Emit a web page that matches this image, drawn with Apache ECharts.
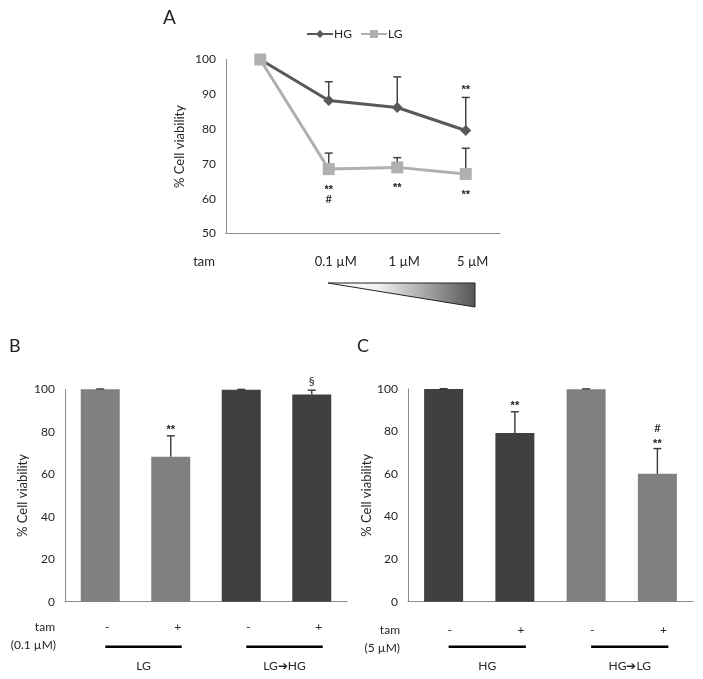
<!DOCTYPE html>
<html><head><meta charset="utf-8">
<script src="https://cdn.jsdelivr.net/npm/echarts@6/dist/echarts.min.js"></script>
<style>html,body{margin:0;padding:0;background:#fff}#c{width:703px;height:679px}</style>
</head><body><div id="c"></div>
<script>
// Panel A
const catsA = ['', '0.1 µM', '1 µM', '5 µM'];
const hgA = [100, 88.2, 86.2, 79.6];
const hgErrA = [0, 5.4, 8.8, 9.5];
const lgA = [100, 68.5, 69.0, 67.1];
const lgErrA = [0, 4.6, 2.8, 7.4];
const annA = [[1, 63.1, '**'], [1, 59.9, '#'], [2, 63.7, '**'], [3, 61.9, '**'], [3, 92.1, '**']];
// Panel B
const catsB = ['-', '+', '-', '+'];
const valsB = [100, 68.3, 99.8, 97.6];
const errB = [0.15, 9.8, 0.15, 2.0];
const groupsB = [[0, 1, 'LG'], [2, 3, 'LG➔HG']];
const annB = [[1, 82.2, '**'], [3, 103.9, '§']];
// Panel C
const catsC = ['-', '+', '-', '+'];
const valsC = [100, 79.3, 99.9, 60.1];
const errC = [0.15, 10.0, 0.15, 11.9];
const groupsC = [[0, 1, 'HG'], [2, 3, 'HG➔LG']];
const annC = [[1, 93.4, '**'], [3, 81.7, '#'], [3, 75.5, '**']];

const LIGHT = '#808080', DARK = '#404040';
const colorsB = [LIGHT, LIGHT, DARK, DARK];
const colorsC = [DARK, DARK, LIGHT, LIGHT];
const FONT = 'Lato';
const TXT = '#262626';
const ERR = '#383838';

function errRender(color, cap, lw) {
  return function (params, api) {
    const x = api.value(0), v = api.value(1), e = api.value(2);
    if (!e) return;
    const p0 = api.coord([x, v]), p1 = api.coord([x, v + e]);
    return {type: 'group', children: [
      {type: 'line', shape: {x1: p0[0], y1: p0[1], x2: p1[0], y2: p1[1]}, style: {stroke: color, lineWidth: lw}},
      {type: 'line', shape: {x1: p1[0] - cap / 2, y1: p1[1], x2: p1[0] + cap / 2, y2: p1[1]}, style: {stroke: color, lineWidth: lw}}
    ]};
  };
}
function annRender(params, api) {
  const p = api.coord([api.value(0), api.value(1)]);
  const t = api.value(2);
  const star = t.indexOf('*') >= 0;
  return {type: 'text', x: p[0], y: p[1] + (star ? 2.5 : 0), style: {
    text: t, fontFamily: star ? 'Liberation Sans' : FONT, fontWeight: star ? 'bold' : 'normal',
    fontSize: star ? 11 : 12, fill: '#222', align: 'center', verticalAlign: 'middle'}};
}
function groupRender(params, api) {
  const a = api.coord([api.value(0), 0]), b = api.coord([api.value(1), 0]);
  const y = a[1];
  return {type: 'group', children: [
    {type: 'line', shape: {x1: a[0] + 5, y1: y + 45, x2: b[0] + 11, y2: y + 45}, style: {stroke: '#000', lineWidth: 2.6}},
    {type: 'text', x: (a[0] + b[0]) / 2 + 8, y: y + 64, style: {text: api.value(2), fontFamily: FONT, fontSize: 12, fill: TXT, align: 'center', verticalAlign: 'middle'}}
  ]};
}

const axisLine = {lineStyle: {color: '#8c8c8c', width: 1}};
const chart = echarts.init(document.getElementById('c'));
chart.setOption({
  animation: false,
  textStyle: {fontFamily: FONT},
  legend: {
    left: 301, top: 23, itemWidth: 26, itemHeight: 10, itemGap: 8,
    textStyle: {fontFamily: FONT, fontSize: 12, color: TXT, padding: [0, 0, 0, -4]},
    data: ['HG', 'LG']
  },
  grid: [
    {left: 226, top: 59.5, width: 274, height: 174},
    {left: 65, top: 389.3, width: 282, height: 212.4},
    {left: 408, top: 389, width: 285, height: 212.7}
  ],
  xAxis: [
    {gridIndex: 0, type: 'category', data: catsA, axisLine: axisLine, axisTick: {show: false},
     axisLabel: {fontFamily: FONT, fontSize: 13, color: TXT, margin: 22, padding: [0, 0, 0, 14]}},
    {gridIndex: 1, type: 'category', data: catsB, axisLine: axisLine, axisTick: {show: false},
     axisLabel: {fontFamily: FONT, fontSize: 12, color: TXT, margin: 19, padding: [0, 0, 0, 14]}},
    {gridIndex: 2, type: 'category', data: catsC, axisLine: axisLine, axisTick: {show: false},
     axisLabel: {fontFamily: FONT, fontSize: 12, color: TXT, margin: 22, padding: [0, 0, 0, 12]}}
  ],
  yAxis: [
    {gridIndex: 0, type: 'value', min: 50, max: 100, interval: 10, splitLine: {show: false},
     axisLine: Object.assign({show: true}, axisLine), axisTick: {show: false},
     axisLabel: {fontFamily: FONT, fontSize: 12, color: TXT, margin: 10},
     name: '% Cell viability', nameLocation: 'middle', nameGap: 40,
     nameTextStyle: {fontFamily: FONT, fontSize: 13, color: TXT}},
    {gridIndex: 1, type: 'value', min: 0, max: 100, interval: 20, splitLine: {show: false},
     axisLine: Object.assign({show: true}, axisLine), axisTick: {show: false},
     axisLabel: {fontFamily: FONT, fontSize: 12, color: TXT, margin: 10},
     name: '% Cell viability', nameLocation: 'middle', nameGap: 36,
     nameTextStyle: {fontFamily: FONT, fontSize: 13, color: TXT}},
    {gridIndex: 2, type: 'value', min: 0, max: 100, interval: 20, splitLine: {show: false},
     axisLine: Object.assign({show: true}, axisLine), axisTick: {show: false},
     axisLabel: {fontFamily: FONT, fontSize: 12, color: TXT, margin: 10},
     name: '% Cell viability', nameLocation: 'middle', nameGap: 34,
     nameTextStyle: {fontFamily: FONT, fontSize: 13, color: TXT}}
  ],
  series: [
    {type: 'custom', xAxisIndex: 0, yAxisIndex: 0, z: 1, clip: false,
     data: hgA.map((v, i) => [i, v, hgErrA[i]]), renderItem: errRender(ERR, 8, 1.4)},
    {type: 'custom', xAxisIndex: 0, yAxisIndex: 0, z: 1, clip: false,
     data: lgA.map((v, i) => [i, v, lgErrA[i]]), renderItem: errRender(ERR, 8, 1.4)},
    {name: 'HG', type: 'line', xAxisIndex: 0, yAxisIndex: 0, z: 3, data: hgA,
     symbol: 'diamond', symbolSize: 11, color: '#595959', lineStyle: {width: 3, color: '#595959'},
     itemStyle: {color: '#595959'}},
    {name: 'LG', type: 'line', xAxisIndex: 0, yAxisIndex: 0, z: 3, data: lgA,
     symbol: 'rect', symbolSize: 12, color: '#b0b0b0', lineStyle: {width: 3, color: '#b0b0b0'},
     itemStyle: {color: '#b0b0b0'}},
    {type: 'custom', xAxisIndex: 0, yAxisIndex: 0, clip: false, data: annA, renderItem: annRender},

    {type: 'bar', xAxisIndex: 1, yAxisIndex: 1, barWidth: 39,
     data: valsB.map((v, i) => ({value: v, itemStyle: {color: colorsB[i]}}))},
    {type: 'custom', xAxisIndex: 1, yAxisIndex: 1, z: 3, clip: false,
     data: valsB.map((v, i) => [i, v, errB[i]]), renderItem: errRender(ERR, 8, 1.4)},
    {type: 'custom', xAxisIndex: 1, yAxisIndex: 1, clip: false, data: annB, renderItem: annRender},
    {type: 'custom', xAxisIndex: 1, yAxisIndex: 1, clip: false, data: groupsB, renderItem: groupRender},

    {type: 'bar', xAxisIndex: 2, yAxisIndex: 2, barWidth: 39,
     data: valsC.map((v, i) => ({value: v, itemStyle: {color: colorsC[i]}}))},
    {type: 'custom', xAxisIndex: 2, yAxisIndex: 2, z: 3, clip: false,
     data: valsC.map((v, i) => [i, v, errC[i]]), renderItem: errRender(ERR, 8, 1.4)},
    {type: 'custom', xAxisIndex: 2, yAxisIndex: 2, clip: false, data: annC, renderItem: annRender},
    {type: 'custom', xAxisIndex: 2, yAxisIndex: 2, clip: false, data: groupsC, renderItem: groupRender}
  ],
  graphic: [
    {type: 'text', left: 163, top: 8, style: {text: 'A', fontFamily: FONT, fontSize: 19, fill: '#222'}},
    {type: 'text', left: 9, top: 337, style: {text: 'B', fontFamily: FONT, fontSize: 18, fill: '#222'}},
    {type: 'text', left: 357, top: 337, style: {text: 'C', fontFamily: FONT, fontSize: 18, fill: '#222'}},
    {type: 'text', x: 215, y: 262, style: {text: 'tam', fontFamily: FONT, fontSize: 13, fill: TXT, align: 'right', verticalAlign: 'middle'}},
    {type: 'polygon', shape: {points: [[328, 283], [475, 283], [475, 307]]},
     style: {stroke: '#222', lineWidth: 1,
       fill: new echarts.graphic.LinearGradient(0, 0, 1, 0, [{offset: 0, color: '#ffffff'}, {offset: 0.35, color: '#f0f0f0'}, {offset: 1, color: '#555555'}])}},
    {type: 'text', x: 55, y: 627, style: {text: 'tam', fontFamily: FONT, fontSize: 12, fill: TXT, align: 'right', verticalAlign: 'middle'}},
    {type: 'text', x: 56, y: 645, style: {text: '(0.1 µM)', fontFamily: FONT, fontSize: 12, fill: TXT, align: 'right', verticalAlign: 'middle'}},
    {type: 'text', x: 400, y: 630, style: {text: 'tam', fontFamily: FONT, fontSize: 12, fill: TXT, align: 'right', verticalAlign: 'middle'}},
    {type: 'text', x: 400, y: 648, style: {text: '(5 µM)', fontFamily: FONT, fontSize: 12, fill: TXT, align: 'right', verticalAlign: 'middle'}}
  ]
});
</script></body></html>
